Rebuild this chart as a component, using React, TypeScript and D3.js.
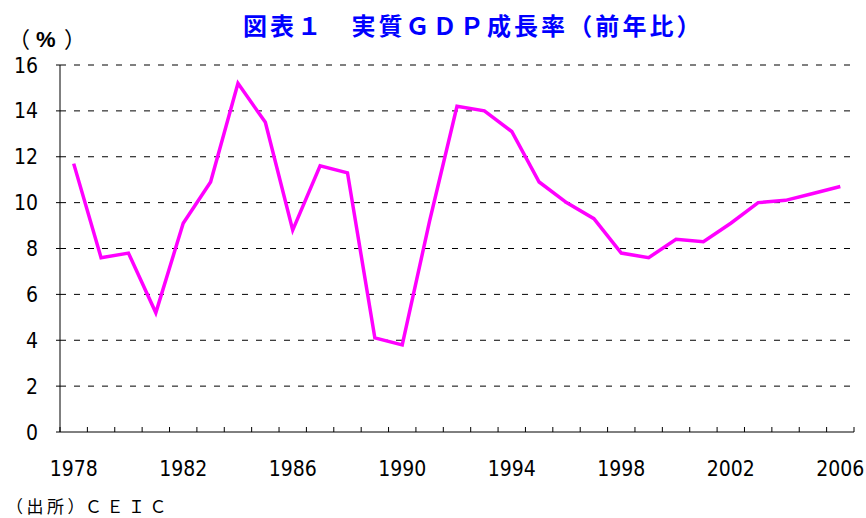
import React from "react";
import * as d3 from "d3";

// 年次と実質GDP成長率（%）
const years = [
  1978, 1979, 1980, 1981, 1982, 1983, 1984, 1985, 1986, 1987,
  1988, 1989, 1990, 1991, 1992, 1993, 1994, 1995, 1996, 1997,
  1998, 1999, 2000, 2001, 2002, 2003, 2004, 2005, 2006,
];
const growth = [
  11.7, 7.6, 7.8, 5.2, 9.1, 10.9, 15.2, 13.5, 8.8, 11.6,
  11.3, 4.1, 3.8, 9.2, 14.2, 14.0, 13.1, 10.9, 10.0, 9.3,
  7.8, 7.6, 8.4, 8.3, 9.1, 10.0, 10.1, 10.4, 10.7,
];
const yTicks = [0, 2, 4, 6, 8, 10, 12, 14, 16];
const xLabels = [1978, 1982, 1986, 1990, 1994, 1998, 2002, 2006];

const W = 866;
const H = 518;
const margin = { top: 65, right: 12, bottom: 86, left: 60 };
const numFont = "'Liberation Sans Narrow', 'DejaVu Sans Condensed', 'Liberation Sans', sans-serif";
const jpFont = "'Noto Sans CJK JP', sans-serif";

export default function App() {
  const innerW = W - margin.left - margin.right;
  const innerH = H - margin.top - margin.bottom;

  const x = d3.scaleBand<number>().domain(years).range([0, innerW]);
  const y = d3.scaleLinear().domain([0, 16]).range([innerH, 0]);

  const pts = years.map((yr, i) => ({ yr, v: growth[i] }));
  const line = d3
    .line<{ yr: number; v: number }>()
    .x((d) => (x(d.yr) as number) + x.bandwidth() / 2)
    .y((d) => y(d.v));

  const boundaries = d3.range(years.length + 1).map((i) => i * x.step());

  return (
    <svg width={W} height={H} style={{ position: "absolute", left: 0, top: 0, background: "#fff" }}>
      <text
        x={243}
        y={35}
        fill="#0000ff"
        fontWeight="bold"
        fontSize={24}
        letterSpacing={3.1}
        fontFamily={jpFont}
      >
        図表１　実質ＧＤＰ成長率（前年比）
      </text>
      <text y={47} fontSize={22} fontFamily={jpFont} fill="#000">
        <tspan x={8}>（</tspan>
        <tspan x={36} fontWeight="bold" fontFamily="'Liberation Sans', sans-serif">%</tspan>
        <tspan x={64}>）</tspan>
      </text>

      <g transform={`translate(${margin.left},${margin.top})`}>
        {yTicks.map((t) => (
          <g key={t}>
            {t > 0 && (
              <line
                x1={0}
                x2={innerW}
                y1={y(t)}
                y2={y(t)}
                stroke="#000"
                strokeWidth={1}
                strokeDasharray="6,8"
              />
            )}
            <line x1={-4} x2={0} y1={y(t)} y2={y(t)} stroke="#000" />
            <text
              x={-22}
              y={y(t)}
              dy="0.36em"
              textAnchor="end"
              fontSize={21}
              fontFamily={numFont}
              fill="#000"
            >
              {t}
            </text>
          </g>
        ))}

        <line x1={0} x2={0} y1={0} y2={innerH} stroke="#000" />
        <line x1={0} x2={innerW} y1={innerH} y2={innerH} stroke="#000" />
        {boundaries.map((b, i) => (
          <line key={i} x1={b} x2={b} y1={innerH} y2={innerH - 5} stroke="#000" />
        ))}

        {xLabels.map((yr) => (
          <text
            key={yr}
            x={(x(yr) as number) + x.bandwidth() / 2}
            y={innerH + 44}
            textAnchor="middle"
            fontSize={21}
            fontFamily={numFont}
            fill="#000"
          >
            {yr}
          </text>
        ))}

        <path
          d={line(pts) ?? ""}
          fill="none"
          stroke="#ff00ff"
          strokeWidth={3.5}
          strokeLinejoin="miter"
        />
      </g>

      <text x={6} y={513} fontSize={17} letterSpacing={3.5} fontFamily={jpFont} fill="#000">
        （出所）
      </text>
      <text x={85} y={513} fontSize={17} letterSpacing={4.5} fontFamily={jpFont} fill="#000">
        ＣＥＩＣ
      </text>
    </svg>
  );
}
